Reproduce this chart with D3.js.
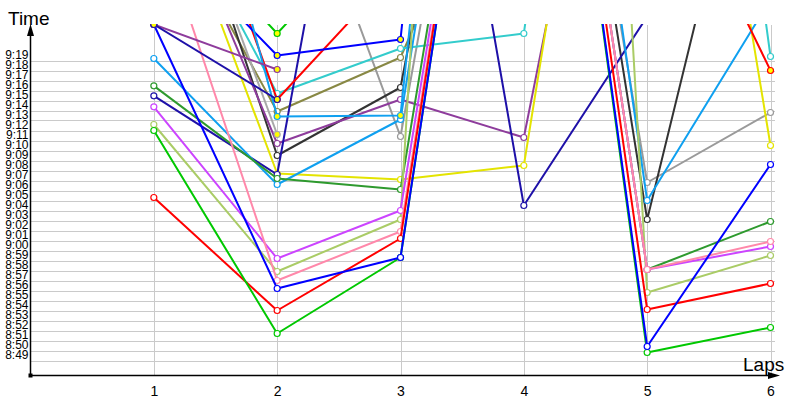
<!DOCTYPE html>
<html>
<head>
<meta charset="utf-8">
<script src="https://cdn.jsdelivr.net/npm/d3@7"></script>
<style>
  body { margin: 0; background: #fff; }
  svg { display: block; font-family: "Liberation Sans", Arial, sans-serif; }
</style>
</head>
<body>
<svg id="chart" width="800" height="400"></svg>
<script>
// laps on the x axis
var laps = [1, 2, 3, 4, 5, 6];

// time at the end of each lap, one array per runner (null = no time)
var red        = ["9:05:18", "8:54:00", "9:01:12", "10:20:00", "8:54:06", "8:56:42"];
var green      = ["9:12:00", "8:51:42", "8:59:18", "10:20:00", "8:49:48", "8:52:18"];
var pink       = ["9:33:54", "8:57:00", "9:01:54", "10:20:00", "8:58:06", "9:00:54"];
var magenta    = ["9:14:22", "8:59:12", "9:04:00", "10:20:00", "8:58:06", "9:00:24"];
var lightGreen = ["9:12:36", "8:57:54", "9:03:06", "12:30:00", "8:55:48", "8:59:30"];
var darkGreen  = ["9:16:28", "9:07:12", "9:06:06", "10:20:00", "8:58:06", "9:02:54"];
var lightBlue  = ["9:19:12", "9:06:36", "9:13:06", "10:30:00", "9:05:00", "9:25:06"];
var navy       = ["9:15:28", "9:07:36", "10:15:00", "9:04:30", "9:23:24", "9:30:00"];
var yellow     = ["9:40:36", "9:07:42", "9:07:06", "9:08:30", "10:25:00", "9:10:30"];
var purple     = ["9:40:00", "9:10:42", "9:15:06", "9:11:18", "10:13:00", "10:00:00"];
var darkGray   = ["9:46:24", "9:09:30", "9:16:18", "10:20:00", "9:03:06", "9:53:30"];
var gray       = ["9:50:00", "9:44:42", "9:11:24", "10:20:00", "9:06:48", "9:13:48"];
var cyan       = ["9:38:48", "9:15:42", "9:20:12", "9:21:42", "10:50:00", "9:19:24"];
var olive      = ["9:36:24", "9:13:54", "9:19:18", "9:47:24", "10:10:00", "10:10:00"];
var red2       = ["9:49:12", "9:15:06", "9:28:24", "10:00:00", "9:43:24", "9:18:00"];
var blue2      = ["9:32:12", "9:19:30", "9:21:06", "11:20:00", null, null];
var lightBlue2 = ["9:59:00", "9:13:24", "9:13:30", "11:12:00", null, null];
var green2     = ["9:35:00", "9:21:42", "9:35:00", null, null, null];
var purple2    = ["9:22:36", "9:18:06", null, null, null, null];
var navy2      = ["9:22:36", "9:15:06", null, null, null, null];
var gray2      = ["9:45:06", "9:11:36", null, null, null, null];
var blue       = ["9:22:36", "8:56:12", "8:59:18", "10:20:00", "8:50:24", "9:08:36"];

// drawing order of the runners and their colours
var runners = ["gray", "olive", "cyan", "darkGray", "purple", "yellow", "navy", "lightBlue",
               "darkGreen", "lightGreen", "magenta", "pink", "red", "green", "blue",
               "gray2", "red2", "blue2", "lightBlue2", "green2", "purple2", "navy2"];
var runnerTimes = [gray, olive, cyan, darkGray, purple, yellow, navy, lightBlue,
                   darkGreen, lightGreen, magenta, pink, red, green, blue,
                   gray2, red2, blue2, lightBlue2, green2, purple2, navy2];
var colors = ["#9a9a9a", "#888844", "#33cccc", "#333333", "#8e3c9c", "#e4e400", "#1e10a8", "#0fa0f0",
              "#2e9a2e", "#aacc66", "#cc44ff", "#ff88aa", "#ff0000", "#00c800", "#0000ff",
              "#a8a8a8", "#ff0000", "#0000ff", "#0fa0f0", "#00c800", "#8e3c9c", "#1e10a8"];
// runners whose markers are drawn filled
var marked = ["gray2", "red2", "blue2", "lightBlue2", "green2", "purple2", "navy2"];

// y axis range
var timeFrom = "8:49:00";
var timeTo = "9:19:00";

var svg = d3.select("#chart");
var parse = d3.timeParse("%H:%M:%S");

var x = d3.scaleLinear().domain([0, 6]).range([30.5, 770.5]);
var y = d3.scaleTime().domain([parse(timeFrom), parse(timeTo)]).range([360.5, 60.5]);
var yTicks = y.ticks(d3.timeMinute.every(1));

// clip everything above the plot top
svg.append("clipPath").attr("id", "plot")
   .append("rect").attr("x", 0).attr("y", 24).attr("width", 800).attr("height", 376);

// horizontal grid
svg.append("g").selectAll("line")
   .data(yTicks).enter().append("line")
   .attr("x1", 31).attr("x2", 775)
   .attr("y1", function(d){ return Math.round(y(d)) + 0.5; })
   .attr("y2", function(d){ return Math.round(y(d)) + 0.5; })
   .attr("stroke", "#cacaca").attr("stroke-width", 1);

// vertical grid at each lap
svg.append("g").selectAll("line")
   .data(laps).enter().append("line")
   .attr("x1", function(d){ return Math.round(x(d)) + 0.5; })
   .attr("x2", function(d){ return Math.round(x(d)) + 0.5; })
   .attr("y1", 25).attr("y2", 375)
   .attr("stroke", "#cacaca").attr("stroke-width", 1);

// y axis labels
var yAxis = svg.append("g")
   .attr("transform", "translate(30.5,0)")
   .call(d3.axisLeft(y).tickValues(yTicks).tickSize(0).tickPadding(2)
           .tickFormat(d3.timeFormat("%-H:%M")));
yAxis.select(".domain").remove();
yAxis.selectAll("text").attr("dy", -2).attr("fill", "#000")
     .style("font-size", "12px").style("font-family", "Liberation Sans, Arial, sans-serif");

// x axis labels
var xAxis = svg.append("g")
   .attr("transform", "translate(0,375.5)")
   .call(d3.axisBottom(x).tickValues(laps).tickSize(0).tickPadding(10.5).tickFormat(d3.format("d")));
xAxis.select(".domain").remove();
xAxis.selectAll("text").attr("fill", "#000")
     .style("font-size", "14px").style("font-family", "Liberation Sans, Arial, sans-serif");

// runner lines and markers
var line = d3.line()
   .defined(function(d){ return d.t !== null; })
   .x(function(d){ return x(d.lap); })
   .y(function(d){ return y(parse(d.t)); });

var plot = svg.append("g").attr("clip-path", "url(#plot)");

runners.forEach(function(name, i){
    var pts = laps.map(function(lap, j){ return {lap: lap, t: runnerTimes[i][j]}; });
    var g = plot.append("g").attr("class", "runner " + name);
    g.append("path")
     .attr("d", line(pts))
     .attr("fill", "none")
     .attr("stroke", colors[i])
     .attr("stroke-width", 2)
     .attr("stroke-linejoin", "round");
    g.selectAll("circle")
     .data(pts.filter(function(d){ return d.t !== null; }))
     .enter().append("circle")
     .attr("cx", function(d){ return x(d.lap); })
     .attr("cy", function(d){ return y(parse(d.t)); })
     .attr("r", 3)
     .attr("fill", marked.indexOf(name) >= 0 ? "#ffff00" : "#fff")
     .attr("stroke", colors[i])
     .attr("stroke-width", 1.2);
});

// axes with arrows
svg.append("line").attr("x1", 30.5).attr("x2", 30.5).attr("y1", 34).attr("y2", 375.5)
   .attr("stroke", "#000").attr("stroke-width", 1.5);
svg.append("line").attr("x1", 30.5).attr("x2", 772).attr("y1", 375.5).attr("y2", 375.5)
   .attr("stroke", "#000").attr("stroke-width", 1.5);
svg.append("path").attr("d", "M30.5,24 L27,36 L34,36 Z").attr("fill", "#000");
svg.append("path").attr("d", "M780,375.5 L768,372 L768,379 Z").attr("fill", "#000");
svg.append("rect").attr("x", 28.5).attr("y", 373.5).attr("width", 4).attr("height", 4).attr("fill", "#000");

svg.append("text").attr("x", 8).attr("y", 25).text("Time")
   .style("font-size", "19px").attr("fill", "#000");
svg.append("text").attr("x", 743).attr("y", 371).text("Laps")
   .style("font-size", "19px").attr("fill", "#000");
</script>
</body>
</html>
